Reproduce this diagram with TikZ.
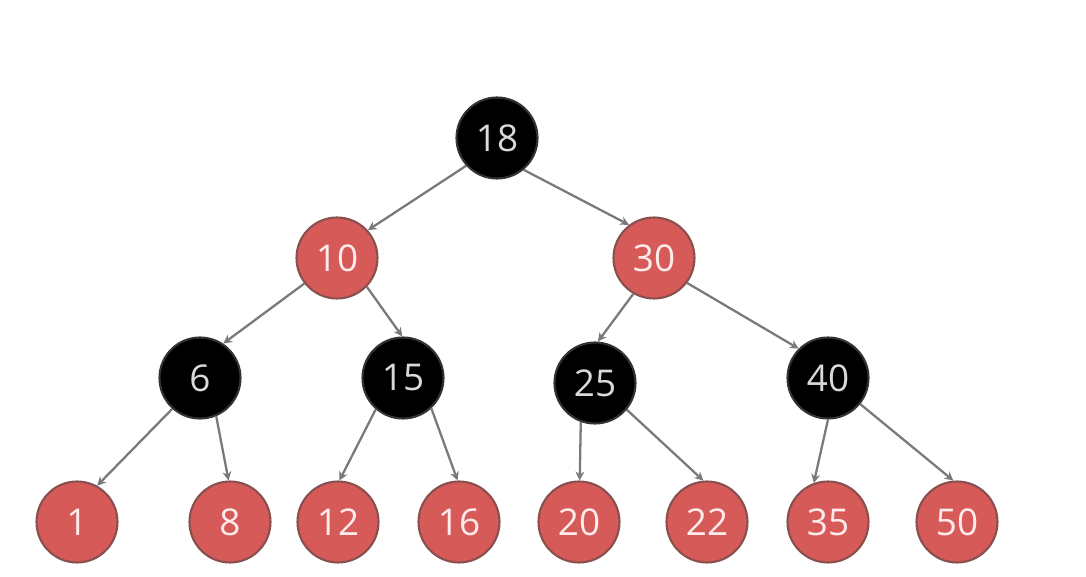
\documentclass[tikz,border=0pt]{standalone}
\usepackage{fontspec}
\setmainfont{Open Sans}
\usetikzlibrary{arrows.meta}
\definecolor{rbred}{HTML}{D65A58}
\definecolor{rbedge}{HTML}{8A5050}
\definecolor{rbline}{HTML}{7A7A7A}
\tikzset{
  rednode/.style={circle, fill=rbred, draw=rbedge, line width=1.2pt, minimum size=1.62cm, inner sep=0pt, text=white!92!red, font=\fontsize{21}{21}\selectfont},
  blacknode/.style={circle, fill=black, draw=black!80, line width=1.2pt, minimum size=1.62cm, inner sep=0pt, text=black!15, font=\fontsize{21}{21}\selectfont},
  link/.style={->, draw=rbline, line width=1.3pt}
}
\begin{document}
\begin{tikzpicture}[>={Stealth[length=5pt,width=5pt]}, x=0.02cm, y=-0.02cm]
\useasboundingbox (0,0) rectangle (1086,577);
\node[blacknode] (n18) at (497,138) {18};
\node[rednode] (n10) at (337,258) {10};
\node[rednode] (n30) at (654,258) {30};
\node[blacknode] (n6) at (200,378) {6};
\node[blacknode] (n15) at (403,378) {15};
\node[blacknode] (n25) at (595,383) {25};
\node[blacknode] (n40) at (828,378) {40};
\node[rednode] (n1) at (77,522) {1};
\node[rednode] (n8) at (230,522) {8};
\node[rednode] (n12) at (338,522) {12};
\node[rednode] (n16) at (459,522) {16};
\node[rednode] (n20) at (579,522) {20};
\node[rednode] (n22) at (707,522) {22};
\node[rednode] (n35) at (828,522) {35};
\node[rednode] (n50) at (957,522) {50};
% edges leave and enter at fixed angles
\draw[link](n18.222)--(n10.42);
\draw[link](n18.310)--(n30.127);
\draw[link](n10.218)--(n6.56);
\draw[link](n10.316)--(n15.91);
\draw[link](n30.240)--(n25.86);
\draw[link](n30.323)--(n40.135);
\draw[link](n6.228)--(n1.61);
\draw[link](n6.293)--(n8.92);
\draw[link](n15.229)--(n12.88);
\draw[link](n15.313)--(n16.92);
\draw[link](n25.250)--(n20.89);
\draw[link](n25.320)--(n22.95);
\draw[link](n40.270)--(n35.110);
\draw[link](n40.321)--(n50.95);
\end{tikzpicture}
\end{document}
